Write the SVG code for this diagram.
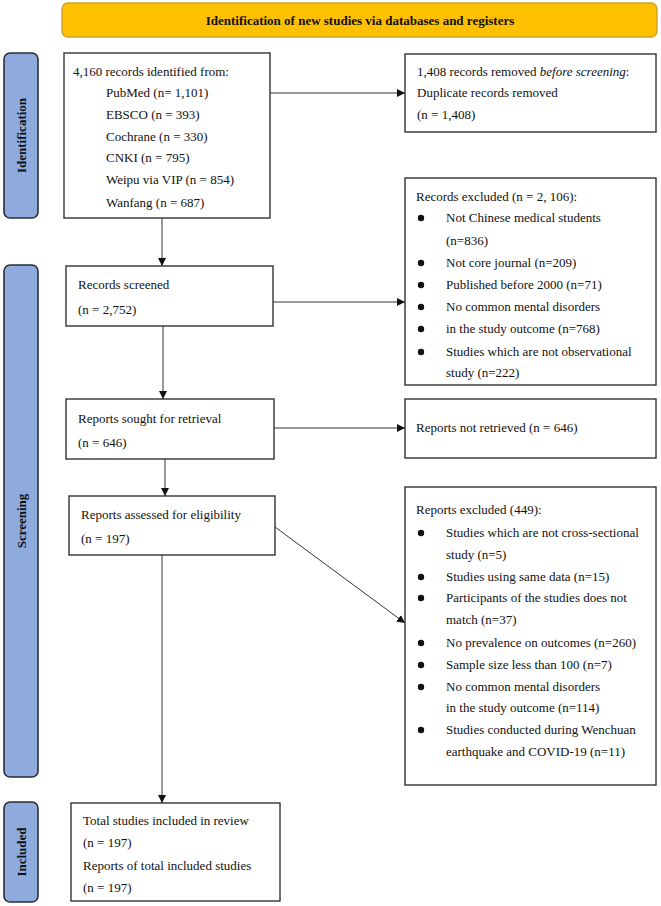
<svg xmlns="http://www.w3.org/2000/svg" width="661" height="906" viewBox="0 0 661 906">
<defs>
<style>
.t{font-family:"Liberation Serif","Times New Roman",serif;font-size:13px;fill:#111;}
.b{font-weight:bold;}
.box{fill:#fff;stroke:#333;stroke-width:1.4;}
.side{fill:#8FAADC;stroke:#2b2f38;stroke-width:1.6;}
.ban{fill:#FFC000;stroke:#C9A227;stroke-width:1.4;}
.c{stroke:#333;stroke-width:1;fill:none;}
.dot{fill:#111;}
</style>
<marker id="ah" viewBox="0 0 10 10" refX="10" refY="5" markerWidth="8" markerHeight="8" markerUnits="userSpaceOnUse" orient="auto">
<path d="M0,0 L10,5 L0,10 z" fill="#111"/>
</marker>
</defs>
<rect width="661" height="906" fill="#fff"/>

<g id="banner">
<rect class="ban" x="62" y="3" width="595" height="34" rx="6"/>
<text class="t b" x="360" y="24.5" text-anchor="middle">Identification of new studies via databases and registers</text>
</g>

<g id="side-identification">
<rect class="side" x="4" y="53" width="34" height="165" rx="6"/>
<text class="t b" transform="translate(25.5,135.5) rotate(-90)" text-anchor="middle">Identification</text>
</g>
<g id="side-screening">
<rect class="side" x="4" y="265" width="34" height="512" rx="6"/>
<text class="t b" transform="translate(25.5,521) rotate(-90)" text-anchor="middle">Screening</text>
</g>
<g id="side-included">
<rect class="side" x="4" y="802" width="34" height="100" rx="6"/>
<text class="t b" transform="translate(25.5,852) rotate(-90)" text-anchor="middle">Included</text>
</g>

<g id="connectors">
<line class="c" x1="270" y1="93" x2="405" y2="93" marker-end="url(#ah)"/>
<line class="c" x1="162" y1="218" x2="162" y2="266" marker-end="url(#ah)"/>
<line class="c" x1="273" y1="302" x2="405" y2="302" marker-end="url(#ah)"/>
<line class="c" x1="163" y1="326" x2="163" y2="399" marker-end="url(#ah)"/>
<line class="c" x1="274" y1="428" x2="405" y2="428" marker-end="url(#ah)"/>
<line class="c" x1="165" y1="459" x2="165" y2="496" marker-end="url(#ah)"/>
<line class="c" x1="275" y1="527" x2="405" y2="623" marker-end="url(#ah)"/>
<line class="c" x1="162" y1="555" x2="162" y2="803" marker-end="url(#ah)"/>
</g>

<g id="identified">
<rect class="box" x="64" y="53" width="206" height="165"/>
<text class="t" x="73" y="76">4,160 records identified from:</text>
<text class="t" x="106" y="97">PubMed (n= 1,101)</text>
<text class="t" x="106" y="119">EBSCO (n = 393)</text>
<text class="t" x="106" y="141">Cochrane (n = 330)</text>
<text class="t" x="106" y="162">CNKI (n = 795)</text>
<text class="t" x="106" y="184">Weipu via VIP (n = 854)</text>
<text class="t" x="106" y="207">Wanfang (n = 687)</text>
</g>

<g id="duplicates">
<rect class="box" x="405" y="54" width="251" height="78"/>
<text class="t" x="417" y="76">1,408 records removed <tspan font-style="italic">before screening</tspan>:</text>
<text class="t" x="417" y="97">Duplicate records removed</text>
<text class="t" x="417" y="119">(n = 1,408)</text>
</g>

<g id="screened">
<rect class="box" x="66" y="266" width="207" height="60"/>
<text class="t" x="78" y="289">Records screened</text>
<text class="t" x="78" y="314"> (n = 2,752)</text>
</g>

<g id="records-excluded">
<rect class="box" x="405" y="178" width="251" height="207"/>
<text class="t" x="416" y="201">Records excluded (n = 2, 106):</text>
<circle class="dot" cx="421" cy="218" r="3.2"/>
<text class="t" x="446" y="222">Not Chinese medical students</text>
<text class="t" x="446" y="245">(n=836)</text>
<circle class="dot" cx="421" cy="263" r="3.2"/>
<text class="t" x="446" y="267">Not core journal (n=209)</text>
<circle class="dot" cx="421" cy="285" r="3.2"/>
<text class="t" x="446" y="289">Published before 2000 (n=71)</text>
<circle class="dot" cx="421" cy="307" r="3.2"/>
<text class="t" x="446" y="311">No common mental disorders</text>
<circle class="dot" cx="421" cy="329" r="3.2"/>
<text class="t" x="446" y="333">in the study outcome (n=768)</text>
<circle class="dot" cx="421" cy="352" r="3.2"/>
<text class="t" x="446" y="356">Studies which are not observational</text>
<text class="t" x="446" y="377">study (n=222)</text>
</g>

<g id="sought">
<rect class="box" x="66" y="399" width="208" height="60"/>
<text class="t" x="78" y="423">Reports sought for retrieval</text>
<text class="t" x="78" y="447">(n = 646)</text>
</g>

<g id="not-retrieved">
<rect class="box" x="405" y="399" width="251" height="59"/>
<text class="t" x="416" y="432">Reports not retrieved (n = 646)</text>
</g>

<g id="assessed">
<rect class="box" x="69" y="496" width="206" height="59"/>
<text class="t" x="81" y="519">Reports assessed for eligibility</text>
<text class="t" x="81" y="543">(n = 197)</text>
</g>

<g id="reports-excluded">
<rect class="box" x="405" y="487" width="251" height="298"/>
<text class="t" x="416" y="514">Reports excluded (449):</text>
<circle class="dot" cx="421" cy="533" r="3.2"/>
<text class="t" x="446" y="537">Studies which are not cross-sectional</text>
<text class="t" x="446" y="559">study (n=5)</text>
<circle class="dot" cx="421" cy="577" r="3.2"/>
<text class="t" x="446" y="581">Studies using same data (n=15)</text>
<circle class="dot" cx="421" cy="598" r="3.2"/>
<text class="t" x="446" y="602">Participants of the studies does not</text>
<text class="t" x="446" y="624">match (n=37)</text>
<circle class="dot" cx="421" cy="643" r="3.2"/>
<text class="t" x="446" y="647">No prevalence on outcomes (n=260)</text>
<circle class="dot" cx="421" cy="665" r="3.2"/>
<text class="t" x="446" y="669">Sample size less than 100 (n=7)</text>
<circle class="dot" cx="421" cy="687" r="3.2"/>
<text class="t" x="446" y="691">No common mental disorders</text>
<text class="t" x="446" y="712">in the study outcome (n=114)</text>
<circle class="dot" cx="421" cy="730" r="3.2"/>
<text class="t" x="446" y="734">Studies conducted during Wenchuan</text>
<text class="t" x="446" y="756">earthquake and COVID-19 (n=11)</text>
</g>

<g id="included">
<rect class="box" x="71" y="803" width="209" height="98"/>
<text class="t" x="83" y="825">Total studies included in review</text>
<text class="t" x="83" y="847">(n = 197)</text>
<text class="t" x="83" y="870">Reports of total included studies</text>
<text class="t" x="83" y="892">(n = 197)</text>
</g>
</svg>
